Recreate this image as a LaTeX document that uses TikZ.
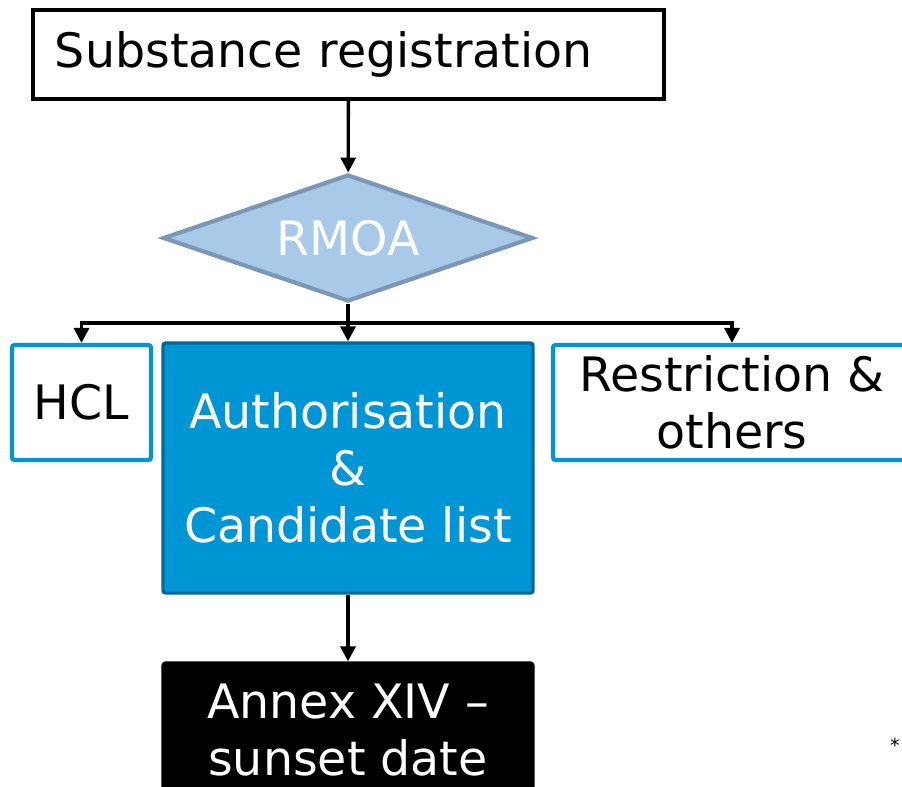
\documentclass[tikz,border=0pt]{standalone}
\usepackage{fontspec}
\setmainfont{DejaVu Sans}
\usetikzlibrary{arrows.meta,positioning,shapes.geometric}
\definecolor{echablue}{RGB}{0,150,214}
\definecolor{echadark}{RGB}{0,106,157}
\definecolor{paleblue}{RGB}{168,201,232}
\definecolor{slate}{RGB}{124,150,181}

\begin{document}
\begin{tikzpicture}[>={Triangle[width=8.5pt,length=8.5pt]},line width=1.9pt,
 box/.style={draw,rounded corners=1.5pt,align=center,font=\fontsize{27}{32.5}\selectfont,inner sep=0pt},
 side/.style={box,draw=echablue,fill=white,line width=2.4pt,minimum height=2.3cm}]
\clip (0,0) rectangle (18.04,-15.72);
\node[box,rounded corners=0pt,line width=2.2pt,fill=white,minimum width=12.62cm,minimum height=1.78cm,text width=11.74cm,align=left] (reg) at (6.97,-1.09) {Substance registration};
\node[diamond,shape aspect=2.9,draw=slate,fill=paleblue,line width=2.4pt,inner sep=0pt,minimum width=7.4cm,minimum height=2.54cm,text=white,font=\fontsize{27}{32.5}\selectfont] (rmoa) at (6.96,-4.76) {RMOA};
\node[side,minimum width=2.78cm] (hcl) at (1.63,-8.05) {HCL};
\node[box,draw=echadark,fill=echablue,text=white,minimum width=7.4cm,minimum height=5cm] (auth) at (6.96,-9.36) {Authorisation\\\&\\Candidate list};
\node[side,minimum width=7.16cm] (restr) at (14.64,-8.05) {Restriction \&\\others};
\node[box,fill=black,text=white,minimum width=7.4cm,minimum height=2.68cm] (annex) at (6.96,-14.6) {Annex XIV –\\sunset date};
\node[font=\fontsize{11}{13}\selectfont] (note) at (17.9,-14.9) {*};
\coordinate (split) at (6.96,-6.46);
\draw[->] (reg)--(rmoa);
\draw (rmoa)--(split);
\draw[->] (split)-|(hcl);
\draw[->] (split)-|(restr);
\draw[->] (split)--(auth);
\draw[->] (auth)--(annex);
\end{tikzpicture}
\end{document}
